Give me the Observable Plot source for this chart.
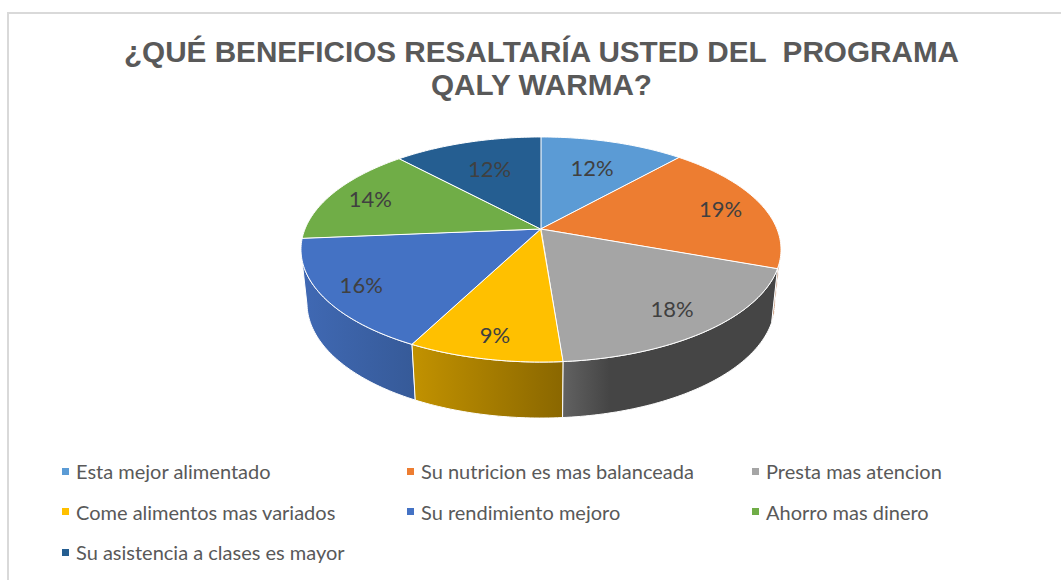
<!DOCTYPE html>
<html lang="es">
<head>
<meta charset="utf-8">
<script src="https://cdn.jsdelivr.net/npm/d3@7"></script>
<script src="https://cdn.jsdelivr.net/npm/@observablehq/plot@0.6"></script>
<style>
  html, body { margin: 0; padding: 0; background: #fff; }
  #page { position: relative; width: 1061px; height: 580px; overflow: hidden; }
  #frame { position: absolute; left: 7px; top: 12px; right: 0; bottom: 0;
           border-top: 2px solid #d9d9d9; border-left: 2px solid #d9d9d9; }
  h1 { position: absolute; left: 0; top: 35px; width: 1083px; margin: 0; text-align: center;
       font: bold 29.7px/33px "Liberation Sans", Arial, sans-serif; color: #595959; white-space: pre; }
  #chart { position: absolute; left: 0; top: 100px; }
  #chart svg { display: block; }
  #legend { position: absolute; left: 62px; top: 451px; display: grid;
            grid-template-columns: 345px 345px 300px; grid-auto-rows: 40.5px; align-items: center;
            font: 20px "Lato", "Carlito", sans-serif; color: #595959; }
  #legend div { display: flex; align-items: center; white-space: nowrap; }
  #legend i { display: inline-block; width: 7px; height: 7px; margin-right: 7px; }
</style>
</head>
<body>
<div id="page">
  <div id="frame"></div>
  <h1>¿QUÉ BENEFICIOS RESALTARÍA USTED DEL  PROGRAMA
QALY WARMA?</h1>
  <div id="chart"></div>
  <div id="legend"></div>
</div>
<script>
const categories = ["Esta mejor alimentado", "Su nutricion es mas balanceada", "Presta mas atencion",
  "Come alimentos mas variados", "Su rendimiento mejoro", "Ahorro mas dinero", "Su asistencia a clases es mayor"];
const shares = [11.6, 19.0, 18.2, 8.8, 16.1, 14.4, 11.9];
const topColors = ["#5b9bd5", "#ed7d31", "#a5a5a5", "#ffc000", "#4472c4", "#70ad47", "#255e91"];
const wallStops = [
  ["#4a7cab", "#3f6a92"], ["#b5602a", "#8c4a20"], ["#626262", "#454545"], ["#c29200", "#8a6700"],
  ["#4069b4", "#365a98"], ["#5a8a39", "#4a7230"], ["#1e4b74", "#1a4063"]
];
const labelRadius = [0.67, 0.81, 0.81, 0.84, 0.84, 0.82, 0.67];

// Perspective disc: a point at fraction r, clockwise angle a from the top
const tilt = 0.1822;
const project = (r, a) => {
  const u = r * Math.sin(a), v = -r * Math.cos(a), w = 1 - tilt * v;
  return {x: u / w, y: v / w, v};
};
const lower = (p) => ({x: p.x * 0.975, y: p.y + (53 + 3 * p.v) / 108.8});

const total = d3.sum(shares);
let running = 0;
const slices = shares.map((value, i) => {
  const a0 = running / total * 2 * Math.PI;
  running += value;
  const a1 = running / total * 2 * Math.PI;
  return {i, value, a0, a1};
});
const arc = (s) => d3.range(0, 1.0001, 1 / Math.max(8, Math.ceil((s.a1 - s.a0) * 60)))
  .map((t) => project(1, s.a0 + (s.a1 - s.a0) * t));

const defs = () => {
  const d = d3.create("svg:defs");
  wallStops.forEach(([a, b], i) => {
    const g = d.append("linearGradient").attr("id", `wall${i}`);
    g.append("stop").attr("offset", "0").attr("stop-color", a);
    g.append("stop").attr("offset", i === 2 ? "0.22" : "1").attr("stop-color", b);
  });
  return d.node();
};

// Only the part of the rim past the tangent points (v >= tilt) faces the viewer.
const walls = slices.map((s) => {
  const pts = arc(s).filter((p) => p.v >= tilt);
  if (pts.length < 2) return null;
  return Plot.area(pts, {
    x1: "x", y1: "y", x2: (p) => lower(p).x, y2: (p) => lower(p).y,
    fill: `url(#wall${s.i})`, stroke: "#fff", strokeWidth: 1
  });
}).filter(Boolean);

const tops = slices.map((s) => Plot.area(arc(s), {
  x1: () => 0, y1: () => 0, x2: "x", y2: "y",
  fill: topColors[s.i], stroke: "#fff", strokeWidth: 1
}));

const labels = slices.map((s) => {
  const p = project(labelRadius[s.i], (s.a0 + s.a1) / 2);
  return {...p, text: `${Math.round(s.value)}%`};
});

const plot = Plot.plot({
  width: 1061, height: 340,
  margin: 0,
  style: {background: "transparent", overflow: "visible"},
  x: {domain: [-1, 1], range: [541 - 236, 541 + 236], axis: null},
  y: {domain: [-1, 1], range: [129 - 108.8, 129 + 108.8], axis: null},
  marks: [
    defs,
    ...walls,
    ...tops,
    Plot.text(labels, {
      x: "x", y: "y", text: "text", fill: "#404040", dy: 1,
      fontSize: 22, fontFamily: "Lato, Carlito, sans-serif"
    })
  ]
});
document.getElementById("chart").append(plot);

const legend = d3.select("#legend");
categories.forEach((c, i) => {
  const row = legend.append("div");
  row.append("i").style("background", topColors[i]);
  row.append("span").text(c);
});
</script>
</body>
</html>
